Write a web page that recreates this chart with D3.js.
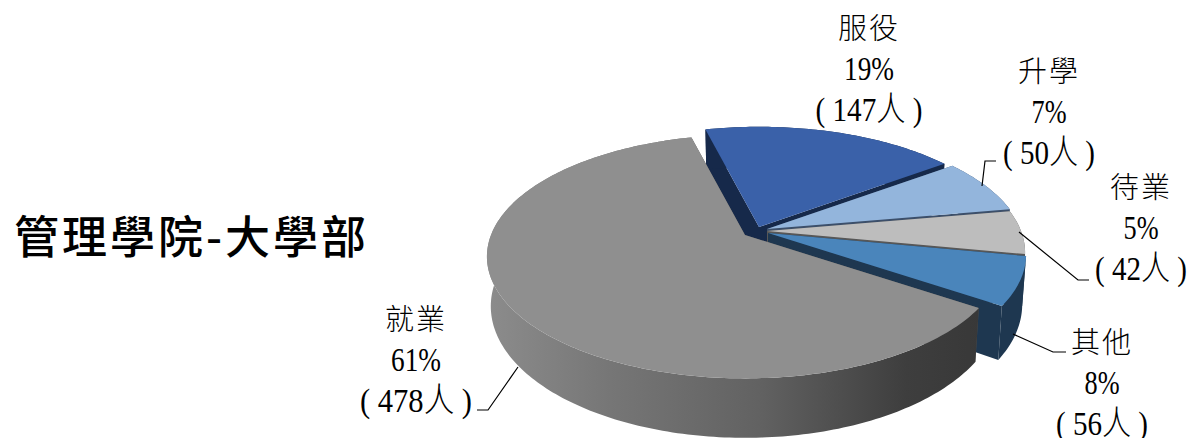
<!DOCTYPE html>
<html><head><meta charset="utf-8">
<script src="https://d3js.org/d3.v7.min.js"></script>
<style>html,body{margin:0;padding:0;background:#fff}svg{display:block}</style>
</head><body><svg id="c" width="1189" height="438"></svg>
<script>
const categories=["服役","升學","待業","其他","就業"];
const sliceShares=[18.9,7.3,5.8,6.4,61.6];
const percents=["19%","7%","5%","8%","61%"];
const countLabels=["( 147人 )","( 50人 )","( 42人 )","( 56人 )","( 478人 )"];
const title="管理學院-大學部";

const topColors=["#3a61a9","#93b5dc","#bdbdbd","#4a85bb","#8f8f8f"];
const wallColors=["#16294a","#3c4f6a","#575757","#1e3750","url(#wallGrey)"];
const cutColors=["#16294a","#3c4f6a","#575757","#1e3750","#555"];
const apexes=[[759,227],[767,229],[767,231],[768,233],[745,235]];
const labelCenters=[869,1049,1141,1102,416];
const labelTops=[39,82,198,353,330];
const labelWidths=[[50,35,107],[50,35,92],[50,35,92],[50,35,92],[50,50,112]];
const leaders=[null,[[982,186],[985,161],[996,161]],[[1019,232],[1078,280],[1089,280]],[[1013,334],[1053,352],[1066,352]],[[518,367],[488,410],[477,410]]];

const A=254,B=118,K=0.177;
const topPlane={sx:1,sy:1,dy:0},bottomPlane={sx:0.985,sy:1.08,dy:48};
const rad=d=>d*Math.PI/180;
const project=(a,apex,p)=>{const x=Math.sin(a),y=Math.cos(a),w=1+K*y;
  return [apex[0]+A*x/w*p.sx, apex[1]-B*y/w*p.sy+p.dy];};
const centre=(apex,p)=>[apex[0],apex[1]+p.dy];
const arcPts=(a0,a1,apex,p)=>{const n=Math.max(8,Math.ceil(Math.abs(a1-a0)/rad(1)));
  return d3.range(n+1).map(i=>project(a0+(a1-a0)*i/n,apex,p));};
const line=d3.line();

const svg=d3.select("#c");
const grad=svg.append("defs").append("linearGradient").attr("id","wallGrey")
 .attr("gradientUnits","userSpaceOnUse").attr("x1",487).attr("x2",980).attr("y1",0).attr("y2",0);
[[0,"#8c8c8c"],[0.25,"#767676"],[0.55,"#626262"],[0.85,"#3e3e3e"],[1,"#383838"]].forEach(s=>grad.append("stop").attr("offset",s[0]).attr("stop-color",s[1]));

const pie=d3.pie().sort(null).value(d=>d).startAngle(rad(-14.3)).endAngle(rad(345.7));
const arcs=pie(sliceShares);
const gPie=svg.append("g");
arcs.forEach((d,i)=>{
  const ap=apexes[i],g=gPie.append("g");
  [d.startAngle,d.endAngle].forEach(a=>{
    const t=project(a,ap,topPlane),b=project(a,ap,bottomPlane);
    g.append("path").attr("d",line([centre(ap,topPlane),t,b,centre(ap,bottomPlane)])+"Z").attr("fill",cutColors[i]);
  });
  const up=arcPts(d.startAngle,d.endAngle,ap,topPlane),lo=arcPts(d.endAngle,d.startAngle,ap,bottomPlane);
  g.append("path").attr("d",line(up.concat(lo))+"Z").attr("fill",wallColors[i]);
  g.append("path").attr("d",line([centre(ap,topPlane)].concat(up))+"Z").attr("fill",topColors[i]);
});

leaders.forEach(l=>{if(l)svg.append("path").attr("d",line(l)).attr("fill","none").attr("stroke","#000").attr("stroke-width",1.2);});

const cjk="'Noto Sans CJK TC'",serif="'Liberation Serif'";
categories.forEach((c,i)=>{
  const x=labelCenters[i],y=labelTops[i],w=labelWidths[i];
  const g=svg.append("g").attr("text-anchor","middle").attr("fill","#000");
  g.append("text").attr("x",x).attr("y",y).text(c).attr("font-family",cjk).attr("font-weight",300).attr("font-size",29).attr("letter-spacing",2);
  g.append("text").attr("x",x).attr("y",y+41).text(percents[i]).attr("font-family",serif).attr("font-size",34)
    .attr("textLength",percents[i].length===3?50:35).attr("lengthAdjust","spacingAndGlyphs");
  g.append("text").attr("x",x).attr("y",y+82).text(countLabels[i]).attr("font-family",serif+","+cjk).attr("font-weight",300).attr("font-size",34)
    .attr("textLength",w[2]).attr("lengthAdjust","spacingAndGlyphs");
});
svg.append("text").attr("x",14).attr("y",254).text(title).attr("font-family",cjk).attr("font-weight",500).attr("font-size",45).attr("letter-spacing",3).attr("fill","#000");
</script></body></html>
